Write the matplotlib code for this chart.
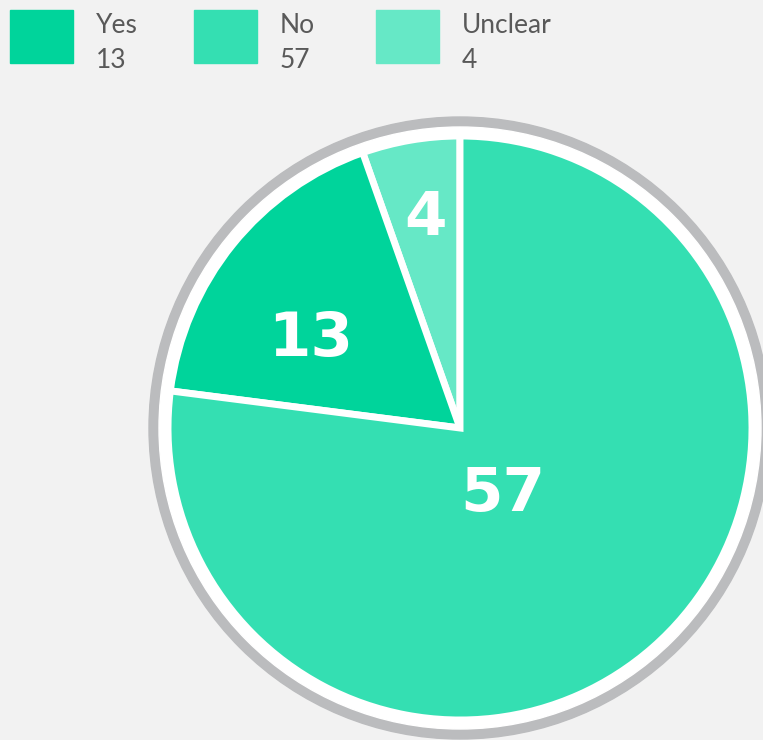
import numpy as np
import matplotlib
matplotlib.use("Agg")
import matplotlib.pyplot as plt
from matplotlib.patches import Circle, Rectangle

# data
categories = ['Yes', 'No', 'Unclear']
values = [13, 57, 4]
colors = ['#00D49B', '#34DFB2', '#66E8C6']

# pie is drawn starting at the top, going counterclockwise: Unclear, Yes, No
pie_order = [2, 0, 1]
# where each number sits inside its slice: (fraction of radius, angle in degrees)
label_pos = {'Yes': (0.605, 147.5), 'No': (0.253, 305.6), 'Unclear': (0.746, 99.2)}

W, H = 763, 740
fig = plt.figure(figsize=(W / 100, H / 100), dpi=100)
fig.patch.set_facecolor('#F2F2F2')
ax = fig.add_axes([0, 0, 1, 1])
ax.set_facecolor('#F2F2F2')

cx, cy = 460, H - 428
R = 292

# grey ring + white ring behind the pie
ax.add_patch(Circle((cx, cy), 311, color='#BBBCBE', zorder=0))
ax.add_patch(Circle((cx, cy), 301, color='white', zorder=1))

vals = [values[i] for i in pie_order]
cols = [colors[i] for i in pie_order]
wedges, _ = ax.pie(vals, colors=cols, startangle=90, counterclock=True,
                   center=(cx, cy), radius=R, explode=[0.012, 0.02, 0.008],
                   wedgeprops=dict(edgecolor='white', linewidth=5))
for w in wedges:
    w.set_zorder(2)

cap = 45  # cap height of the numbers in px
for i in pie_order:
    fr, ang = label_pos[categories[i]]
    a = np.deg2rad(ang)
    ax.text(cx + fr * R * np.cos(a), cy + fr * R * np.sin(a) - cap / 2,
            str(values[i]), ha='center', va='baseline', color='white',
            fontsize=44, fontweight='bold', family='DejaVu Sans', zorder=3)

# legend
leg_x = [10, 194, 376]
for x, c, v, col in zip(leg_x, categories, values, colors):
    ax.add_patch(Rectangle((x, H - 63), 63, 53, color=col, zorder=3))
    ax.text(x + 86, H - 33, c, ha='left', va='baseline', fontsize=19,
            color='#595959', family='Lato')
    ax.text(x + 86, H - 68, str(v), ha='left', va='baseline', fontsize=19,
            color='#595959', family='Lato')

ax.set_xlim(0, W)
ax.set_ylim(0, H)
ax.set_aspect('auto')
ax.axis('off')

fig.savefig('out.png', dpi=100, facecolor=fig.get_facecolor())
